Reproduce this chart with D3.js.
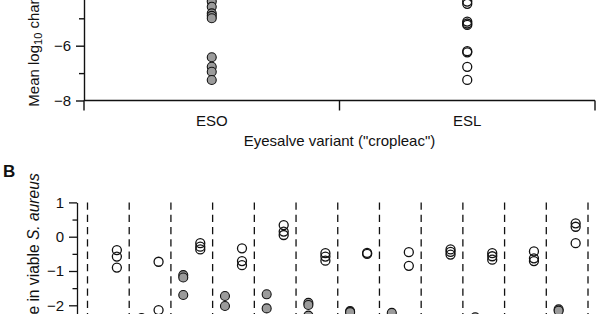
<!DOCTYPE html>
<html>
<head>
<meta charset="utf-8">
<script src="https://cdn.jsdelivr.net/npm/d3@7"></script>
<style>
  html, body { margin: 0; padding: 0; background: #fff; }
  svg { display: block; }
  text { font-family: "Liberation Sans", Arial, Helvetica, sans-serif; fill: #111; }
</style>
</head>
<body>
<svg id="chart" width="600" height="314"></svg>
<script>
// ---------- Data ----------
// Panel A
const categoriesA = ["ESO", "ESL"];
const esoValues = [-4.39, -4.58, -4.82, -4.91, -5.0, -6.42, -6.77, -6.95, -7.25];
const eslValues = [-4.39, -4.47, -5.12, -5.19, -5.24, -6.2, -6.24, -6.77, -7.25];
const ticksAMajor = [-8, -6];
const ticksAMinor = [-7, -5];
const xTitleA = 'Eyesalve variant ("cropleac")';

// Panel B
const groupsB = ["G1","G2","G3","G4","G5","G6","G7","G8","G9","G10","G11","G12"];
const filledB = [
  [], [-2.37], [-1.12, -1.19, -1.70], [-1.73, -2.02], [-1.68, -2.09],
  [-1.93, -1.99, -2.3], [-2.17, -2.2], [-2.22], [], [-2.35], [], [-2.12, -2.16]
];
const openB = [
  [-0.39, -0.58, -0.90], [-0.73, -2.14], [-0.19, -0.29, -0.37], [-0.34, -0.71, -0.83],
  [0.34, 0.15, 0.05], [-0.48, -0.58, -0.70], [-0.47, -0.5], [-0.45, -0.85],
  [-0.37, -0.44, -0.52], [-0.48, -0.57, -0.67], [-0.43, -0.63, -0.71], [0.39, 0.29, -0.19]
];
const ticksBMajor = [1, 0, -1, -2];
const ticksBMinor = [0.5, -0.5, -1.5];

// ---------- Drawing ----------
const svg = d3.select("#chart");
const R = 4.5;
const grayFill = "#9b9b9b";
const intFmt = d3.format("d");

// ===== Panel A =====
const yA = d3.scaleLinear().domain([-8, -4.25]).range([100.5, 100.5 - 3.75 * 27.4]);
const xA = d3.scaleBand().domain(categoriesA).range([84, 595]);

const gA = svg.append("g");
const axA = gA.append("g").attr("transform", "translate(84,0)")
  .call(d3.axisLeft(yA).tickValues(ticksAMajor).tickFormat(intFmt).tickSize(8).tickSizeOuter(0).tickPadding(5));
axA.selectAll("text").style("font-size", "15px").style("font-family", "Liberation Sans, Arial, sans-serif").attr("fill", "#111");
const axAm = gA.append("g").attr("transform", "translate(84,0)")
  .call(d3.axisLeft(yA).tickValues(ticksAMinor).tickSize(5).tickFormat(""));
axAm.select(".domain").remove();
gA.selectAll("path, line").attr("stroke", "#111").attr("stroke-width", 1.4);

// x axis A
gA.append("line").attr("x1", xA.range()[0]).attr("x2", xA.range()[1])
  .attr("y1", yA(-8)).attr("y2", yA(-8)).attr("stroke", "#111").attr("stroke-width", 1.6);
const edgesA = categoriesA.map(c => xA(c)).concat([xA.range()[1]]);
gA.selectAll(".xtickA").data(edgesA).enter().append("line")
  .attr("x1", d => d).attr("x2", d => d)
  .attr("y1", yA(-8)).attr("y2", yA(-8) + 10)
  .attr("stroke", "#111").attr("stroke-width", 1.4);
gA.selectAll(".xlabA").data(categoriesA).enter().append("text")
  .attr("x", d => xA(d) + xA.bandwidth() / 2).attr("y", 126)
  .attr("text-anchor", "middle").style("font-size", "15px").text(d => d);
gA.append("text").attr("x", (xA.range()[0] + xA.range()[1]) / 2).attr("y", 146)
  .attr("text-anchor", "middle").style("font-size", "15px").text(xTitleA);

// y title A (cut off at top, as in the reference)
const tA = gA.append("text").attr("transform", "translate(38.5,106.7) rotate(-90)")
  .attr("text-anchor", "start").style("font-size", "15px");
tA.append("tspan").text("Mean log");
tA.append("tspan").attr("dy", 3).style("font-size", "11px").text("10");
tA.append("tspan").attr("dy", -3).text(" change in viable ");
tA.append("tspan").style("font-style", "italic").text("S. aureus");

// points A
const ptsA = [
  ...esoValues.map(v => ({c: "ESO", v, filled: true})),
  ...eslValues.map(v => ({c: "ESL", v, filled: false}))
];
gA.selectAll(".ptA").data(ptsA).enter().append("circle")
  .attr("cx", d => xA(d.c) + xA.bandwidth() / 2)
  .attr("cy", d => yA(d.v))
  .attr("r", R)
  .attr("fill", d => d.filled ? grayFill : "none")
  .attr("stroke", "#111").attr("stroke-width", d => d.filled ? 1.1 : 1.3);

// ===== Panel B =====
svg.append("text").attr("x", 3).attr("y", 176.5)
  .style("font-size", "17px").style("font-weight", "bold").text("B");

const yB = d3.scaleLinear().domain([-2.6, 1]).range([236.7 + 2.6 * 34.3, 236.7 - 34.3]);
const xB = d3.scaleBand().domain(groupsB).range([87.5, 588]);
const inner = d3.scalePoint().domain(["filled", "open"]).range([0, xB.bandwidth()]).padding(0.725);

const gB = svg.append("g");
const axB = gB.append("g").attr("transform", "translate(77,0)")
  .call(d3.axisLeft(yB).tickValues(ticksBMajor).tickFormat(intFmt).tickSize(8).tickSizeOuter(0).tickPadding(5));
axB.selectAll("text").style("font-size", "15px").style("font-family", "Liberation Sans, Arial, sans-serif").attr("fill", "#111");
const axBm = gB.append("g").attr("transform", "translate(77,0)")
  .call(d3.axisLeft(yB).tickValues(ticksBMinor).tickSize(4.5).tickFormat(""));
axBm.select(".domain").remove();
gB.selectAll("path, line").attr("stroke", "#111").attr("stroke-width", 1.3);

// dashed separators
const edgesB = groupsB.map(g => xB(g)).concat([xB.range()[1]]);
gB.selectAll(".sep").data(edgesB).enter().append("line")
  .attr("x1", d => d).attr("x2", d => d)
  .attr("y1", yB(1)).attr("y2", 330)
  .attr("stroke", "#111").attr("stroke-width", 1.3)
  .attr("stroke-dasharray", "7.3,5");

// y title B (cut off at bottom, as in the reference)
const tB = gB.append("text").attr("transform", "translate(38.5,173.3) rotate(-90)")
  .attr("text-anchor", "end").style("font-size", "15.6px");
tB.append("tspan").text("Mean log");
tB.append("tspan").attr("dy", 3).style("font-size", "11px").text("10");
tB.append("tspan").attr("dy", -3).text(" change in viable ");
tB.append("tspan").style("font-style", "italic").text("S. aureus");

// points B
const ptsB = [];
groupsB.forEach((g, i) => {
  filledB[i].forEach(v => ptsB.push({g, v, type: "filled"}));
  openB[i].forEach(v => ptsB.push({g, v, type: "open"}));
});
gB.selectAll(".ptB").data(ptsB).enter().append("circle")
  .attr("cx", d => xB(d.g) + inner(d.type))
  .attr("cy", d => yB(d.v))
  .attr("r", R)
  .attr("fill", d => d.type === "filled" ? grayFill : "none")
  .attr("stroke", "#111").attr("stroke-width", d => d.type === "filled" ? 1.1 : 1.3);
</script>
</body>
</html>
